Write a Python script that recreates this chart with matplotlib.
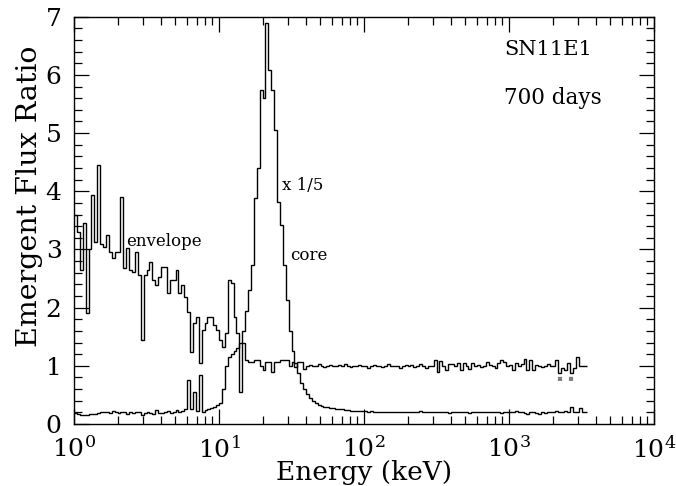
import matplotlib
matplotlib.use('Agg')
import matplotlib.pyplot as plt
import numpy as np
from matplotlib.ticker import FixedLocator, FixedFormatter, MultipleLocator, LogLocator, NullFormatter

# bin width in log10(E/keV), bins start at 1 keV
dlog = 0.02

envelope = [3.59, 3.3, 2.65, 3.45, 1.9, 3.0, 3.93, 3.13, 4.45, 3.1,
            3.05, 3.25, 2.95, 2.85, 2.95, 2.95, 3.9, 2.68, 3.02, 2.65,
            2.61, 2.95, 2.56, 1.45, 2.56, 2.65, 2.78, 2.47, 2.39, 2.53,
            2.7, 2.7, 2.25, 2.47, 2.47, 2.65, 2.25, 2.39, 2.18, 1.92,
            1.24, 1.73, 1.84, 1.04, 1.62, 1.73, 1.84, 1.84, 1.7, 1.62,
            1.44, 1.33, 1.56, 2.47, 2.42, 1.84, 1.56, 0.55, 1.39, 1.1,
            1.07, 1.07, 1.1, 1.1, 1.0, 0.93, 1.07, 1.07, 0.9, 1.07,
            1.07, 1.1, 1.1, 1.1, 1.0, 1.07, 0.98, 1.07, 1.07, 0.95,
            1.0, 1.02, 0.99, 1.0, 1.03, 1.0, 0.98, 1.0, 1.02, 1.0,
            0.99, 1.01, 1.0, 1.03, 1.0, 0.98, 1.0, 1.0, 1.02, 0.99,
            1.0, 0.97, 1.0, 1.02, 1.0, 1.0, 0.98, 1.0, 1.03, 1.0,
            0.99, 1.0, 0.96, 1.0, 1.02, 1.0, 1.02, 0.98, 1.0, 1.03,
            1.0, 0.97, 1.0, 1.0, 1.1, 0.9, 1.08, 1.0, 0.93, 1.03,
            1.03, 1.0, 1.05, 0.93, 1.05, 1.0, 0.94, 1.04, 1.0, 1.02,
            0.98, 1.0, 1.06, 1.02, 1.0, 0.97, 1.04, 1.1, 1.06, 0.99,
            1.02, 0.93, 1.05, 1.0, 1.03, 1.12, 0.92, 1.1, 0.93, 1.02,
            1.0, 0.98, 1.0, 1.03, 1.0, 1.0, 1.1, 0.87, 0.97, 0.93,
            1.05, 0.87, 0.97, 1.15, 1.0, 1.0, 1.0]

# core spectrum, already multiplied by 1/5
core = [0.19, 0.17, 0.15, 0.16, 0.16, 0.17, 0.18, 0.18, 0.19, 0.2,
        0.2, 0.21, 0.19, 0.23, 0.2, 0.19, 0.21, 0.21, 0.18, 0.2,
        0.19, 0.2, 0.2, 0.15, 0.19, 0.2, 0.19, 0.18, 0.24, 0.19,
        0.19, 0.2, 0.22, 0.19, 0.2, 0.24, 0.2, 0.23, 0.25, 0.75,
        0.25, 0.55, 0.22, 0.85, 0.2, 0.24, 0.25, 0.27, 0.3, 0.33,
        0.36, 0.6, 1.0, 1.15, 1.2, 1.25, 1.3, 1.4, 1.6, 1.95,
        2.3, 2.73, 3.88, 4.4, 5.74, 5.6, 6.9, 6.08, 5.74, 5.05,
        3.81, 3.42, 2.73, 2.13, 1.6, 1.25, 1.05, 0.88, 0.7, 0.6,
        0.52, 0.45, 0.4, 0.36, 0.33, 0.31, 0.3, 0.29, 0.28, 0.27,
        0.26, 0.25, 0.25, 0.24, 0.24, 0.23, 0.23, 0.22, 0.23, 0.22,
        0.22, 0.21, 0.22, 0.21, 0.21, 0.21, 0.21, 0.2, 0.21, 0.2,
        0.2, 0.21, 0.2, 0.2, 0.21, 0.21, 0.2, 0.2, 0.21, 0.22,
        0.21, 0.2, 0.2, 0.21, 0.2, 0.2, 0.2, 0.21, 0.2, 0.19,
        0.2, 0.2, 0.21, 0.2, 0.2, 0.2, 0.19, 0.2, 0.2, 0.21,
        0.2, 0.2, 0.2, 0.21, 0.2, 0.2, 0.2, 0.19, 0.2, 0.21,
        0.2, 0.2, 0.23, 0.2, 0.2, 0.19, 0.18, 0.2, 0.2, 0.19,
        0.18, 0.2, 0.19, 0.2, 0.21, 0.2, 0.22, 0.2, 0.21, 0.23,
        0.2, 0.29, 0.2, 0.21, 0.27, 0.21, 0.21]

# bins of the envelope with a downward error mark
err_bins = [167, 171]
err_len = 0.13

xtick_vals = [1, 10, 100, 1000, 10000]
xtick_labels = ['$10^{0}$', '$10^{1}$', '$10^{2}$', '$10^{3}$', '$10^{4}$']

plt.rcParams['font.family'] = 'DejaVu Serif'
plt.rcParams['mathtext.fontset'] = 'dejavuserif'

fig = plt.figure(figsize=(6.76, 4.86), dpi=100)
ax = fig.add_axes([0.1095, 0.1276, 0.858, 0.838])

env_edges = 10 ** (dlog * np.arange(len(envelope) + 1))
core_edges = 10 ** (dlog * np.arange(len(core) + 1))
ax.stairs(envelope, env_edges, baseline=None, color='black', lw=1.0)
ax.stairs(core, core_edges, baseline=None, color='black', lw=1.0)

for b in err_bins:
    xc = 10 ** (dlog * (b + 0.5))
    ax.vlines(xc, envelope[b] - err_len, envelope[b], color='0.5', lw=3.0, linestyles=(0, (1, 1)))

ax.set_xscale('log')
ax.set_xlim(1, 1e4)
ax.set_ylim(0, 7)

ax.xaxis.set_major_locator(FixedLocator(xtick_vals))
ax.xaxis.set_major_formatter(FixedFormatter(xtick_labels))
ax.xaxis.set_minor_locator(LogLocator(base=10, subs=np.arange(2, 10)))
ax.xaxis.set_minor_formatter(NullFormatter())
ax.yaxis.set_major_locator(MultipleLocator(1))
ax.yaxis.set_minor_locator(MultipleLocator(0.2))

ax.tick_params(which='both', direction='in', top=True, right=True, width=0.9)
ax.tick_params(which='major', length=11, labelsize=18, pad=9)
ax.tick_params(which='minor', length=6)
for sp in ax.spines.values():
    sp.set_linewidth(1.0)

ax.set_xlabel('Energy (keV)', fontsize=19, labelpad=-2)
ax.set_ylabel('Emergent Flux Ratio', fontsize=20.5)
ax.yaxis.set_label_coords(-0.053, 0.56)

ax.text(2.3, 3.14, 'envelope', fontsize=12, va='center', ha='left')
ax.text(27, 4.1, 'x 1/5', fontsize=12, va='center', ha='left')
ax.text(31, 2.9, 'core', fontsize=12, va='center', ha='left')
ax.text(930, 6.43, 'SN11E1', fontsize=15, va='center', ha='left')
ax.text(930, 5.6, '700 days', fontsize=15.5, va='center', ha='left')

fig.savefig('out.png', dpi=100)
